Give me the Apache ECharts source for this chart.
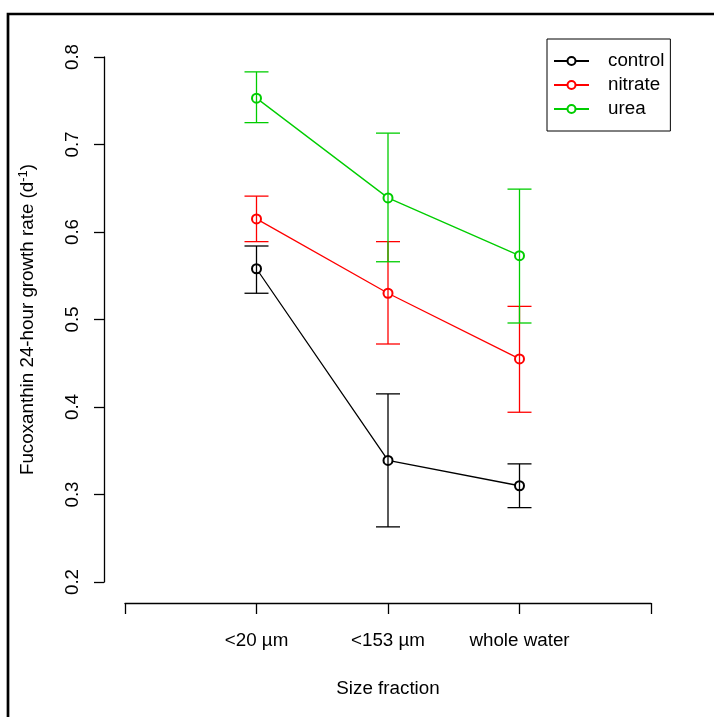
<!DOCTYPE html>
<html lang="en">
<head>
    <meta charset="UTF-8">
    <title></title>
    <style>
        html, body { margin: 0; padding: 0; background: #fff; }
    </style>
</head>
<body>
<div id="main" style="width: 714px;height: 717px"></div>
<script src="https://cdn.jsdelivr.net/npm/echarts@6/dist/echarts.min.js"></script>
<script>
    // size fractions on x = 1, 2, 3
    var categories = ['<20 \u00b5m', '<153 \u00b5m', 'whole water'];
    var seriesNames = ['control', 'nitrate', 'urea'];
    var seriesColors = ['#000000', '#ff0000', '#00cd00'];

    var control = [0.558, 0.339, 0.310];
    var controlLow = [0.530, 0.263, 0.285];
    var controlHigh = [0.584, 0.415, 0.335];

    var nitrate = [0.615, 0.530, 0.455];
    var nitrateLow = [0.589, 0.472, 0.394];
    var nitrateHigh = [0.641, 0.589, 0.515];

    var urea = [0.753, 0.639, 0.573];
    var ureaLow = [0.725, 0.566, 0.496];
    var ureaHigh = [0.783, 0.713, 0.649];

    var means = [control, nitrate, urea];
    var lows = [controlLow, nitrateLow, ureaLow];
    var highs = [controlHigh, nitrateHigh, ureaHigh];

    var font = 'Liberation Sans, Arial, sans-serif';
    var fs = 18.8;

    var container = document.getElementById('main');
    var myChart = echarts.init(container);

    function errorBar(params, api) {
        var x = api.value(0);
        var top = api.coord([x, api.value(2)]);
        var bottom = api.coord([x, api.value(1)]);
        var half = 12;
        var style = {stroke: api.visual('color'), lineWidth: 1.3};
        return {
            type: 'group',
            children: [
                {type: 'line', shape: {x1: top[0], y1: top[1], x2: bottom[0], y2: bottom[1]}, style: style},
                {type: 'line', shape: {x1: top[0] - half, y1: top[1], x2: top[0] + half, y2: top[1]}, style: style},
                {type: 'line', shape: {x1: bottom[0] - half, y1: bottom[1], x2: bottom[0] + half, y2: bottom[1]}, style: style}
            ]
        };
    }

    var series = [];
    for (var i = 0; i < seriesNames.length; i++) {
        var pts = [], bars = [];
        for (var j = 0; j < categories.length; j++) {
            pts.push([j + 1, means[i][j]]);
            bars.push([j + 1, lows[i][j], highs[i][j]]);
        }
        series.push({
            name: seriesNames[i],
            type: 'line',
            data: pts,
            symbol: 'emptyCircle',
            symbolSize: 9,
            color: seriesColors[i],
            itemStyle: {borderWidth: 1.2},
            lineStyle: {width: 1.3, color: seriesColors[i]},
            z: 2,
            animation: false
        });
        series.push({
            name: seriesNames[i] + ' error',
            type: 'custom',
            data: bars,
            renderItem: errorBar,
            itemStyle: {color: seriesColors[i]},
            z: 3,
            animation: false
        });
    }

    var option = {
        backgroundColor: '#ffffff',
        animation: false,
        grid: {
            left: 125,
            top: 57,
            width: 526,
            height: 525
        },
        legend: {
            data: seriesNames,
            orient: 'vertical',
            left: 547,
            top: 39,
            padding: [12, 6, 12, 6],
            itemGap: 4,
            itemWidth: 35,
            itemHeight: 10,
            borderColor: '#000',
            borderWidth: 1,
            textStyle: {
                fontFamily: font,
                fontSize: fs,
                lineHeight: 20,
                color: '#000',
                padding: [0, 0, 0, 14]
            }
        },
        xAxis: {
            type: 'value',
            min: 0,
            max: 4,
            interval: 1,
            offset: 21,
            name: 'Size fraction',
            nameLocation: 'middle',
            nameGap: 76,
            nameTextStyle: {fontFamily: font, fontSize: fs, color: '#000'},
            axisLine: {onZero: false, lineStyle: {color: '#000', width: 1.3}},
            axisTick: {length: 11, lineStyle: {color: '#000', width: 1.3}},
            splitLine: {show: false},
            axisLabel: {
                fontFamily: font,
                fontSize: fs,
                color: '#000',
                margin: 28,
                formatter: function (v) {
                    return categories[v - 1] || '';
                }
            }
        },
        yAxis: {
            type: 'value',
            min: 0.2,
            max: 0.8,
            interval: 0.1,
            offset: 21,
            name: '{n|Fucoxanthin 24-hour growth rate (d}{s|-1}{n|)}',
            nameLocation: 'middle',
            nameGap: 65,
            nameTextStyle: {
                fontFamily: font,
                fontSize: fs,
                color: '#000',
                rich: {
                    n: {fontFamily: font, fontSize: fs, color: '#000'},
                    s: {fontFamily: font, fontSize: 13, color: '#000', verticalAlign: 'bottom', padding: [0, 0, 9, 0]}
                }
            },
            axisLine: {onZero: false, lineStyle: {color: '#000', width: 1.3}},
            axisTick: {length: 10, lineStyle: {color: '#000', width: 1.3}},
            splitLine: {show: false},
            axisLabel: {
                fontFamily: font,
                fontSize: fs,
                color: '#000',
                rotate: 90,
                margin: 22,
                formatter: function (v) {
                    return v.toFixed(1);
                }
            }
        },
        graphic: [{
            type: 'rect',
            shape: {x: 8, y: 14, width: 720, height: 720},
            style: {fill: 'none', stroke: '#000', lineWidth: 2.7},
            silent: true
        }],
        series: series
    };

    myChart.setOption(option);
</script>
</body>
</html>
